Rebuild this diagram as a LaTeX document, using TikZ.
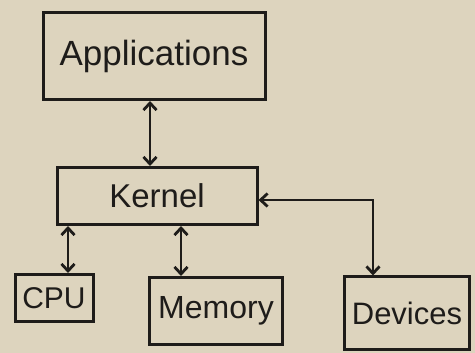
\documentclass[tikz,border=0pt]{standalone}
\usepackage{fontspec}
\setmainfont{Liberation Sans}
\usetikzlibrary{arrows.meta}
\definecolor{paper}{HTML}{DDD4BE}
\definecolor{ink}{HTML}{1E1C1A}
\begin{document}
\begin{tikzpicture}[x=1pt,y=-1pt,
  box/.style={draw=ink, line width=3pt, text=ink, inner sep=0pt, align=center},
  link/.style={draw=ink, line width=2.8pt, {Straight Barb[length=7pt,width=13pt]}-{Straight Barb[length=7pt,width=13pt]}}]
\fill[paper] (0,0) rectangle (475,353);
\useasboundingbox (0,0) rectangle (475,353);
\node[box, minimum width=222pt, minimum height=87pt, font=\fontsize{35}{37}\selectfont] (apps) at (154,56) {Applications};
\node[box, minimum width=200pt, minimum height=57pt, font=\fontsize{33}{35}\selectfont] (kernel) at (157,196) {Kernel};
\node[box, minimum width=78pt, minimum height=47pt, font=\fontsize{30}{32}\selectfont] (cpu) at (54,298) {CPU};
\node[box, minimum width=133pt, minimum height=67pt, font=\fontsize{32}{34}\selectfont] (memory) at (216,311) {Memory};
\node[box, minimum width=125pt, minimum height=72pt, font=\fontsize{31}{33}\selectfont] (devices) at (407,313) {Devices};
\draw[link] ([xshift=-4pt]apps.south) -- ([xshift=-4pt]apps.south |- kernel.north);
\draw[link] ([xshift=14pt]cpu.north |- kernel.south) -- ([xshift=14pt]cpu.north);
\draw[link] ([xshift=-35pt]memory.north |- kernel.south) -- ([xshift=-35pt]memory.north);
\draw[link] ([yshift=-4pt]kernel.east) -| ([xshift=-34pt]devices.north);
\end{tikzpicture}
\end{document}
